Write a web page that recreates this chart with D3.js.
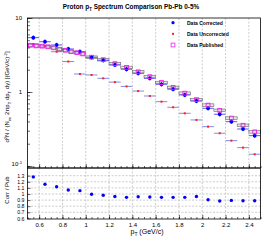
<!DOCTYPE html>
<html>
<head>
<meta charset="utf-8">
<script src="https://cdn.jsdelivr.net/npm/d3@7"></script>
<style>
  body { margin: 0; background: #fff; }
  svg { display: block; font-family: "Liberation Sans", Arial, sans-serif; }
</style>
</head>
<body>
<svg id="chart" width="266" height="241"></svg>
<script>
// Proton pT spectrum, Pb-Pb 0-5%: corrected / uncorrected / published + ratio panel

// bins of the analysis (0.1 GeV/c wide)
const binCenters = [0.55, 0.65, 0.75, 0.85, 0.95, 1.05, 1.15, 1.25, 1.35, 1.45,
                    1.55, 1.65, 1.75, 1.85, 1.95, 2.05, 2.15, 2.25, 2.35, 2.45];
const binWidth = 0.1;
const corrected = [5.42, 4.78, 4.32, 3.81, 3.51, 2.94, 2.68, 2.32, 2.03, 1.79,
                   1.53, 1.27, 1.09, 0.911, 0.756, 0.602, 0.50, 0.397, 0.316, 0.257];
const uncorrected = [4.45, 4.2, 3.5, 2.58, 1.75, 1.70, 1.53, 1.36, 1.19, 1.03,
                     0.883, 0.74, 0.621, 0.515, 0.419, 0.34, 0.277, 0.22, 0.177, 0.144];
const ratio = [1.28, 1.16, 1.12, 1.065, 1.055, 0.995, 0.98, 0.96, 0.945, 0.955,
               0.95, 0.945, 0.945, 0.945, 0.96, 0.905, 0.885, 0.895, 0.89, 0.89];

// published points (finer binning below 1 GeV/c)
const pubCenters = [0.525, 0.575, 0.625, 0.675, 0.725, 0.775, 0.825, 0.875, 0.925, 0.975,
                    1.05, 1.15, 1.25, 1.35, 1.45, 1.55, 1.65, 1.75, 1.85, 1.95,
                    2.05, 2.15, 2.25, 2.35, 2.45];
const pubWidths = [0.05, 0.05, 0.05, 0.05, 0.05, 0.05, 0.05, 0.05, 0.05, 0.05,
                   0.1, 0.1, 0.1, 0.1, 0.1, 0.1, 0.1, 0.1, 0.1, 0.1,
                   0.1, 0.1, 0.1, 0.1, 0.1];
const published = [4.28, 4.20, 4.16, 4.08, 3.95, 3.78, 3.66, 3.50, 3.40, 3.27,
                   2.955, 2.735, 2.417, 2.148, 1.874, 1.611, 1.344, 1.153, 0.964, 0.788,
                   0.665, 0.565, 0.444, 0.355, 0.289];

const xMajor = [0.6, 0.8, 1.0, 1.2, 1.4, 1.6, 1.8, 2.0, 2.2, 2.4];
const ratioTicks = [0.6, 0.7, 0.8, 0.9, 1.0, 1.1, 1.2, 1.3];

const legendItems = ['Data Corrected', 'Data Uncorrected', 'Data Published'];

const font = '"Liberation Sans", Arial, sans-serif';
const svg = d3.select('#chart');

// frames
const left = 27.5, right = 260.5;
const topY = 18, midY = 168, botY = 219;

const xScale = d3.scaleLinear().domain([0.5, 2.5]).range([left, right]);
const yScale = d3.scaleLog().domain([0.0939, 10]).range([midY, topY]);
const rScale = d3.scaleLinear().domain([0.6, 1.4]).range([218.4, 169.6]);

// rich text helper for sub/superscripts: each tspan shifts from the previous one's baseline
function rich(sel, parts, size) {
  let cur = 0;
  parts.forEach(p => {
    const target = p[1] === 'sub' ? size * 0.3 : p[1] === 'sup' ? -size * 0.4 : 0;
    const t = sel.append('tspan').text(p[0]).attr('dy', target - cur);
    if (p[1]) t.style('font-size', (size * 0.7) + 'px');
    cur = target;
  });
}

// ---------- grid ----------
const grid = svg.append('g').attr('stroke', '#aaa').attr('stroke-width', 0.6)
  .attr('stroke-dasharray', '2,1.5');
grid.selectAll('.vt').data(xMajor).join('line')
  .attr('x1', d => xScale(d)).attr('x2', d => xScale(d))
  .attr('y1', topY).attr('y2', midY);
grid.selectAll('.vb').data(xMajor).join('line')
  .attr('x1', d => xScale(d)).attr('x2', d => xScale(d))
  .attr('y1', midY).attr('y2', botY);
grid.selectAll('.hb').data(ratioTicks.slice(1)).join('line')
  .attr('x1', left).attr('x2', right)
  .attr('y1', d => rScale(d)).attr('y2', d => rScale(d));

// ---------- top panel data ----------
const topG = svg.append('g');

// published systematic boxes
topG.selectAll('.sys').data(pubCenters).join('rect')
  .attr('x', (d, i) => xScale(d - pubWidths[i] / 2))
  .attr('width', (d, i) => xScale(d + pubWidths[i] / 2) - xScale(d - pubWidths[i] / 2))
  .attr('y', (d, i) => yScale(published[i] * 1.04))
  .attr('height', (d, i) => yScale(published[i] / 1.04) - yScale(published[i] * 1.04))
  .attr('fill', '#ccc').attr('fill-opacity', 0.5)
  .attr('stroke', '#666').attr('stroke-width', 0.6);

// uncorrected: bin bars + red markers
topG.selectAll('.ub').data(binCenters).join('line')
  .attr('x1', d => xScale(d - binWidth / 2)).attr('x2', d => xScale(d + binWidth / 2))
  .attr('y1', (d, i) => yScale(uncorrected[i])).attr('y2', (d, i) => yScale(uncorrected[i]))
  .attr('stroke', '#7a7ae0').attr('stroke-width', 0.9);
topG.selectAll('.um').data(binCenters).join('rect')
  .attr('x', d => xScale(d) - 1).attr('y', (d, i) => yScale(uncorrected[i]) - 1)
  .attr('width', 2).attr('height', 2).attr('fill', '#ff2020');

// corrected: bin bars, error bars, blue dots
topG.selectAll('.cb').data(binCenters).join('line')
  .attr('x1', d => xScale(d - binWidth / 2)).attr('x2', d => xScale(d + binWidth / 2))
  .attr('y1', (d, i) => yScale(corrected[i])).attr('y2', (d, i) => yScale(corrected[i]))
  .attr('stroke', '#5a5af0').attr('stroke-width', 1);
topG.selectAll('.ce').data(binCenters).join('line')
  .attr('x1', d => xScale(d)).attr('x2', d => xScale(d))
  .attr('y1', (d, i) => yScale(corrected[i] * 1.07)).attr('y2', (d, i) => yScale(corrected[i] / 1.07))
  .attr('stroke', '#2020ff').attr('stroke-width', 1);
topG.selectAll('.cm').data(binCenters).join('circle')
  .attr('cx', d => xScale(d)).attr('cy', (d, i) => yScale(corrected[i]))
  .attr('r', 1.9).attr('fill', '#0000ff');

// published: open magenta squares
topG.selectAll('.pm').data(pubCenters).join('rect')
  .attr('x', d => xScale(d) - 1.9).attr('y', (d, i) => yScale(published[i]) - 1.9)
  .attr('width', 3.8).attr('height', 3.8)
  .attr('fill', 'none').attr('stroke', '#f020f0').attr('stroke-width', 0.9);

// ---------- ratio panel ----------
svg.append('g').selectAll('circle').data(binCenters).join('circle')
  .attr('cx', d => xScale(d)).attr('cy', (d, i) => rScale(ratio[i]))
  .attr('r', 1.7).attr('fill', '#0000ff');

// ---------- axes ----------
function styleAxis(g, size) {
  g.select('.domain').remove();
  g.selectAll('line').attr('stroke', '#000').attr('stroke-width', 0.6);
  g.selectAll('text').style('font-family', font).style('font-size', size + 'px').attr('fill', '#000');
}

// top panel x ticks (inside, no labels)
svg.append('g').attr('transform', `translate(0,${midY})`)
  .call(d3.axisTop(xScale).tickValues(xMajor).tickSize(4).tickFormat(''))
  .call(g => styleAxis(g, 6));
svg.append('g').attr('transform', `translate(0,${midY})`)
  .call(d3.axisTop(xScale).ticks(40).tickSize(2).tickFormat(''))
  .call(g => styleAxis(g, 6));
svg.selectAll('text').filter(function () { return this.textContent === ''; }).remove();

// top panel y axis (log)
const yMajorAxis = svg.append('g').attr('transform', `translate(${left},0)`)
  .call(d3.axisLeft(yScale).tickValues([0.1, 1, 10]).tickSizeInner(-5).tickSizeOuter(0)
    .tickPadding(5.5).tickFormat(d => d === 0.1 ? '' : d3.format('d')(d)))
  .call(g => styleAxis(g, 6));
yMajorAxis.selectAll('.tick').filter(d => d === 0.1).select('text')
  .call(t => rich(t, [['10'], ['-1', 'sup']], 6));
svg.append('g').attr('transform', `translate(${left},0)`)
  .call(d3.axisLeft(yScale).tickValues(yScale.ticks().filter(v => v >= 0.1)).tickSizeInner(-2.5).tickFormat(''))
  .call(g => styleAxis(g, 6));

// ratio panel x axis with labels
svg.append('g').attr('transform', `translate(0,${botY})`)
  .call(d3.axisBottom(xScale).tickValues(xMajor).tickSizeInner(-4).tickSizeOuter(0)
    .tickPadding(3.5).tickFormat(d3.format('~g')))
  .call(g => styleAxis(g, 6));
svg.append('g').attr('transform', `translate(0,${botY})`)
  .call(d3.axisBottom(xScale).ticks(40).tickSize(-2).tickFormat(''))
  .call(g => styleAxis(g, 6));

// ratio panel y axis
svg.append('g').attr('transform', `translate(${left},0)`)
  .call(d3.axisLeft(rScale).tickValues(ratioTicks).tickSizeInner(-3).tickSizeOuter(0)
    .tickPadding(3).tickFormat(d3.format('~g')))
  .call(g => styleAxis(g, 5.2));

// drop the empty labels of unlabelled tick sets
svg.selectAll('.tick text').filter(function () { return this.textContent === ''; }).remove();

// frames
svg.append('rect').attr('x', left).attr('y', topY).attr('width', right - left).attr('height', midY - topY)
  .attr('fill', 'none').attr('stroke', '#000').attr('stroke-width', 0.8);
svg.append('rect').attr('x', left).attr('y', midY).attr('width', right - left).attr('height', botY - midY)
  .attr('fill', 'none').attr('stroke', '#000').attr('stroke-width', 0.8);

// ---------- titles ----------
const title = svg.append('text').attr('x', 131).attr('y', 9)
  .attr('text-anchor', 'middle').style('font-family', font).style('font-size', '6.4px')
  .style('font-weight', 'bold');
rich(title, [['Proton p'], ['T', 'sub'], [' Spectrum Comparison Pb-Pb 0-5%']], 6.4);

const yTitle = svg.append('text').attr('transform', 'translate(9,97) rotate(-90)')
  .attr('text-anchor', 'middle').style('font-family', font).style('font-size', '6px');
rich(yTitle, [['d'], ['2', 'sup'], ['N / (N'], ['ev', 'sub'], [' 2\u03c0p'], ['T', 'sub'],
  [' dp'], ['T', 'sub'], [' dy) [(GeV/c)'], ['-2', 'sup'], [']']], 6);

svg.append('text').attr('transform', 'translate(9,190) rotate(-90)')
  .attr('text-anchor', 'middle').style('font-family', font).style('font-size', '6px')
  .text('Corr / Pub');

const xTitle = svg.append('text').attr('x', 147).attr('y', 234)
  .attr('text-anchor', 'middle').style('font-family', font).style('font-size', '7px');
rich(xTitle, [['p'], ['T', 'sub'], [' (GeV/c)']], 7);

// ---------- legend ----------
const legend = svg.append('g').style('font-family', font).style('font-size', '5px');
const legendY = d3.scalePoint().domain(legendItems).range([22.7, 45]);
legend.append('circle').attr('cx', 173).attr('cy', legendY(legendItems[0])).attr('r', 1.6).attr('fill', '#0000ff');
legend.append('rect').attr('x', 172).attr('y', legendY(legendItems[1]) - 1).attr('width', 2).attr('height', 2).attr('fill', '#ff2020');
legend.append('rect').attr('x', 171.1).attr('y', legendY(legendItems[2]) - 1.9).attr('width', 3.8).attr('height', 3.8)
  .attr('fill', 'none').attr('stroke', '#f020f0').attr('stroke-width', 0.8);
legend.selectAll('text').data(legendItems).join('text')
  .attr('x', 187).attr('y', d => legendY(d) + 1.8)
  .style('font-weight', 'bold')
  .text(d => d);
</script>
</body>
</html>
